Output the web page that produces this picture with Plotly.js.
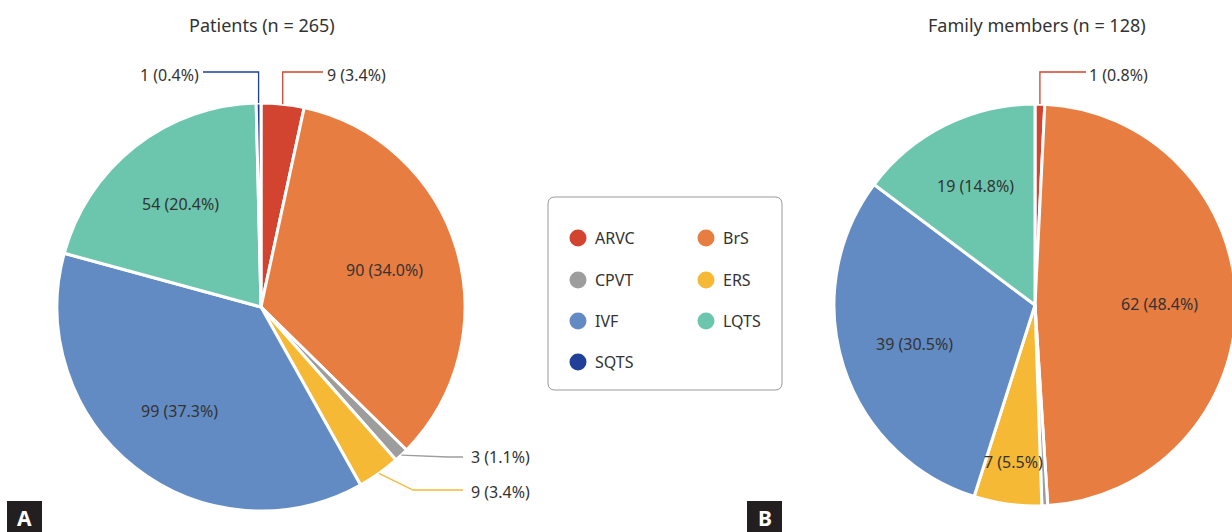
<!DOCTYPE html>
<html>
<head>
<meta charset="utf-8">
<script src="https://cdn.plot.ly/plotly-3.0.1.min.js"></script>
<style>
  html, body { margin: 0; padding: 0; overflow: hidden; background: #fff; }
  #chart { width: 1240px; height: 532px; }
</style>
</head>
<body>
<div id="chart"></div>
<script>
// ---------------- DATA ----------------
const categories = ['ARVC', 'BrS', 'CPVT', 'ERS', 'IVF', 'LQTS', 'SQTS'];
const categoryColors = ['#d24330', '#e87d42', '#9d9d9d', '#f5b936', '#628bc3', '#6cc6ad', '#1f3f98'];

const patientsTitle = 'Patients (n = 265)';
const patientsCategories = ['ARVC', 'BrS', 'CPVT', 'ERS', 'IVF', 'LQTS', 'SQTS'];
const patientsValues = [9, 90, 3, 9, 99, 54, 1];
const patientsPct = [3.4, 34.0, 1.1, 3.4, 37.3, 20.4, 0.4];

const familyTitle = 'Family members (n = 128)';
const familyCategories = ['ARVC', 'BrS', 'CPVT', 'ERS', 'IVF', 'LQTS'];
const familyValues = [1, 62, 0.6, 7, 39, 19];
const familyPct = [0.8, 48.4, null, 5.5, 30.5, 14.8];

const panelLetters = ['A', 'B'];

// ---------------- LAYOUT HELPERS ----------------
const W = 1240, H = 532;
const FONT = '"Noto Sans", "Noto Sans CJK KR", sans-serif';
const TXT = '#333333';
const px = x => x / W;
const py = y => 1 - y / H;
const colorOf = c => categoryColors[categories.indexOf(c)];

const pieA = { cx: 261, cy: 307, r: 204 };
const pieB = { cx: 1035, cy: 305, r: 201 };

function domainOf(p) {
  return { x: [px(p.cx - p.r), px(p.cx + p.r)], y: [py(p.cy + p.r), py(p.cy - p.r)] };
}
function labelText(v, p) { return p == null ? '' : `${v} (${p.toFixed(1)}%)`; }

function midAngle(values, idx) {
  const total = values.reduce((a, b) => a + b, 0);
  let cum = 0;
  for (let i = 0; i < idx; i++) cum += values[i];
  return (cum + values[idx] / 2) / total * 2 * Math.PI;
}
function polar(geom, ang, frac) {
  return [geom.cx + geom.r * frac * Math.sin(ang), geom.cy - geom.r * frac * Math.cos(ang)];
}

function pieTrace(cats, vals, pcts, geom) {
  return {
    type: 'pie',
    labels: cats,
    values: vals,
    text: vals.map((v, i) => labelText(v, pcts[i])),
    textinfo: 'none',
    sort: false,
    direction: 'clockwise',
    rotation: 0,
    marker: { colors: cats.map(colorOf), line: { color: '#ffffff', width: 3 } },
    domain: domainOf(geom),
    showlegend: false,
    hoverinfo: 'label+value'
  };
}

const traces = [
  pieTrace(patientsCategories, patientsValues, patientsPct, pieA),
  pieTrace(familyCategories, familyValues, familyPct, pieB)
];

const shapes = [];
const annotations = [];
const labelFont = { family: FONT, size: 16, color: TXT };

// inside labels: placed along each slice's bisector
const inside = [
  { geom: pieA, cats: patientsCategories, vals: patientsValues, pcts: patientsPct, cat: 'BrS', frac: 0.63 },
  { geom: pieA, cats: patientsCategories, vals: patientsValues, pcts: patientsPct, cat: 'IVF', frac: 0.65 },
  { geom: pieA, cats: patientsCategories, vals: patientsValues, pcts: patientsPct, cat: 'LQTS', frac: 0.64 },
  { geom: pieB, cats: familyCategories, vals: familyValues, pcts: familyPct, cat: 'BrS', frac: 0.62 },
  { geom: pieB, cats: familyCategories, vals: familyValues, pcts: familyPct, cat: 'ERS', frac: 0.79 },
  { geom: pieB, cats: familyCategories, vals: familyValues, pcts: familyPct, cat: 'IVF', frac: 0.63 },
  { geom: pieB, cats: familyCategories, vals: familyValues, pcts: familyPct, cat: 'LQTS', frac: 0.66 }
];
inside.forEach(o => {
  const i = o.cats.indexOf(o.cat);
  const [x, y] = polar(o.geom, midAngle(o.vals, i), o.frac);
  annotations.push({ xref: 'paper', yref: 'paper', x: px(x), y: py(y),
    text: labelText(o.vals[i], o.pcts[i]), showarrow: false, xanchor: 'center', yanchor: 'middle',
    font: labelFont });
});

// outside labels with elbow connectors
const outside = [
  { geom: pieA, cats: patientsCategories, vals: patientsValues, pcts: patientsPct, cat: 'ARVC', style: 'v', ly: 72, hx: 323, tx: 325, ty: 75, anchor: 'left' },
  { geom: pieA, cats: patientsCategories, vals: patientsValues, pcts: patientsPct, cat: 'SQTS', style: 'v', ly: 72, hx: 203, tx: 201, ty: 75, anchor: 'right' },
  { geom: pieA, cats: patientsCategories, vals: patientsValues, pcts: patientsPct, cat: 'CPVT', style: 'd', bx: 448, ly: 457, hx: 463, tx: 469, ty: 457, anchor: 'left' },
  { geom: pieA, cats: patientsCategories, vals: patientsValues, pcts: patientsPct, cat: 'ERS', style: 'd', bx: 413, ly: 490, hx: 463, tx: 469, ty: 492, anchor: 'left' },
  { geom: pieB, cats: familyCategories, vals: familyValues, pcts: familyPct, cat: 'ARVC', style: 'v', ly: 72, hx: 1086, tx: 1087, ty: 75, anchor: 'left' }
];
outside.forEach(o => {
  const i = o.cats.indexOf(o.cat);
  const [ex, ey] = polar(o.geom, midAngle(o.vals, i), 1);
  const mx = o.style === 'v' ? ex : o.bx;
  const path = `M ${px(ex)} ${py(ey)} L ${px(mx)} ${py(o.ly)} L ${px(o.hx)} ${py(o.ly)}`;
  shapes.push({ type: 'path', xref: 'paper', yref: 'paper', path: path,
    line: { color: colorOf(o.cat), width: 1.3 } });
  annotations.push({ xref: 'paper', yref: 'paper', x: px(o.tx), y: py(o.ty),
    text: labelText(o.vals[i], o.pcts[i]), showarrow: false, xanchor: o.anchor, yanchor: 'middle',
    font: labelFont });
});

// titles
[[patientsTitle, 262], [familyTitle, 1037]].forEach(([t, x]) => {
  annotations.push({ xref: 'paper', yref: 'paper', x: px(x), y: py(25), text: t, showarrow: false,
    xanchor: 'center', yanchor: 'middle', font: { family: FONT, size: 18, color: TXT } });
});

// legend box
(function () {
  const x0 = 548, x1 = 782, y0 = 197, y1 = 390, r = 7;
  const P = (x, y) => `${px(x)},${py(y)}`;
  const path = `M ${P(x0 + r, y0)} L ${P(x1 - r, y0)} Q ${P(x1, y0)} ${P(x1, y0 + r)} L ${P(x1, y1 - r)} Q ${P(x1, y1)} ${P(x1 - r, y1)} L ${P(x0 + r, y1)} Q ${P(x0, y1)} ${P(x0, y1 - r)} L ${P(x0, y0 + r)} Q ${P(x0, y0)} ${P(x0 + r, y0)} Z`;
  shapes.push({ type: 'path', xref: 'paper', yref: 'paper', path: path,
    line: { color: '#9a9a9a', width: 1 }, fillcolor: 'rgba(0,0,0,0)' });
  const colX = [578, 706], rowY = [238, 280, 321, 362], dr = 8.5;
  categories.forEach((c, k) => {
    const cx = colX[k % 2], cy = rowY[Math.floor(k / 2)];
    shapes.push({ type: 'circle', xref: 'paper', yref: 'paper',
      x0: px(cx - dr), x1: px(cx + dr), y0: py(cy + dr), y1: py(cy - dr),
      fillcolor: categoryColors[k], line: { width: 0 } });
    annotations.push({ xref: 'paper', yref: 'paper', x: px(cx + 15), y: py(cy), text: c,
      showarrow: false, xanchor: 'left', yanchor: 'middle', font: labelFont });
  });
})();

// panel letters
[[7, 42], [747, 782]].forEach(([x0, x1], k) => {
  shapes.push({ type: 'rect', xref: 'paper', yref: 'paper', x0: px(x0), x1: px(x1), y0: py(532), y1: py(501),
    fillcolor: '#231f20', line: { width: 0 } });
  annotations.push({ xref: 'paper', yref: 'paper', x: px((x0 + x1) / 2), y: py(518), text: '<b>' + panelLetters[k] + '</b>',
    showarrow: false, xanchor: 'center', yanchor: 'middle',
    font: { family: '"Noto Sans", sans-serif', size: 21, color: '#ffffff' } });
});

const layout = {
  width: W, height: H,
  margin: { l: 0, r: 0, t: 0, b: 0 },
  paper_bgcolor: '#ffffff',
  plot_bgcolor: '#ffffff',
  showlegend: false,
  shapes: shapes,
  annotations: annotations,
  font: { family: FONT, color: TXT }
};

Plotly.newPlot('chart', traces, layout, { displayModeBar: false, staticPlot: true });
</script>
</body>
</html>
